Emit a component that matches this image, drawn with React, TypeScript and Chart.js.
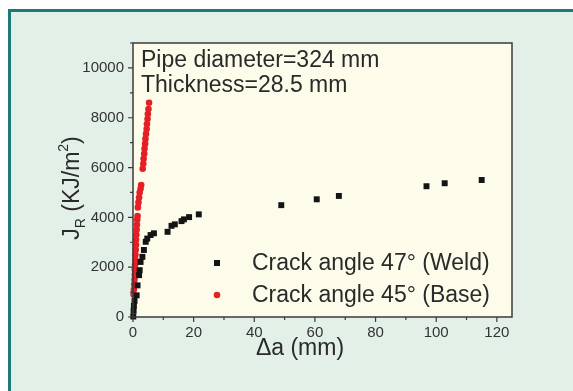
import React, { useEffect, useRef } from "react";
import { Chart, registerables } from "chart.js";

Chart.register(...registerables);

// Crack angle 47° (Weld) — black squares
const weldX = [0.1, 0.2, 0.3, 0.5, 1.2, 1.5, 2.0, 2.2, 2.5, 3.1, 3.6, 4.2, 4.7, 5.8, 6.9, 11.4, 12.7, 13.8, 16.0, 16.8, 18.5, 21.7, 48.9, 60.6, 67.9, 96.8, 102.8, 115.0];
const weldY = [20, 250, 450, 650, 870, 1270, 1680, 1880, 2210, 2415, 2690, 3020, 3150, 3290, 3360, 3420, 3660, 3720, 3850, 3920, 4010, 4120, 4490, 4725, 4860, 5250, 5370, 5500];

// Crack angle 45° (Base) — red circles
const baseX = [0.2, 0.3, 0.4, 0.5, 0.6, 0.6, 0.7, 0.8, 0.8, 0.9, 1.0, 1.0, 1.1, 1.2, 1.3, 1.4, 1.5, 1.6, 1.8, 2.0, 2.2, 2.5, 2.7, 3.2, 3.4, 3.5, 3.7, 3.8, 4.0, 4.1, 4.3, 4.5, 4.6, 4.8, 4.9, 5.1, 5.3];
const baseY = [900, 1100, 1300, 1500, 1700, 1900, 2100, 2300, 2500, 2700, 2900, 3100, 3300, 3500, 3700, 3900, 4050, 4400, 4600, 4800, 5000, 5150, 5300, 5950, 6150, 6350, 6550, 6750, 6950, 7150, 7350, 7550, 7750, 7950, 8150, 8350, 8600];

const seriesLabels = ["Crack angle 47° (Weld)", "Crack angle 45° (Base)"];
const xTitle = "Δa (mm)";
const annotationLines = ["Pipe diameter=324 mm", "Thickness=28.5 mm"];

const FONT = "'Liberation Sans', Arial, sans-serif";
const TEXT = "#2a2a2a";

const decorPlugin = {
  id: "decor",
  beforeDatasetsDraw(chart: any) {
    const { ctx, chartArea: a } = chart;
    ctx.save();
    ctx.fillStyle = "#fdfbe9";
    ctx.fillRect(a.left, a.top, a.right - a.left, a.bottom - a.top);
    ctx.restore();
  },
  afterDraw(chart: any) {
    const { ctx, chartArea: a, scales } = chart;
    ctx.save();
    // frame
    ctx.strokeStyle = "#3a3a3a";
    ctx.lineWidth = 1.5;
    ctx.strokeRect(a.left, a.top, a.right - a.left, a.bottom - a.top);
    // ticks
    ctx.lineWidth = 1.2;
    ctx.beginPath();
    scales.x.ticks.forEach((t: any) => {
      if (t.value % 10 !== 0) return;
      const px = scales.x.getPixelForValue(t.value);
      const len = t.value % 20 === 0 ? 5 : 3;
      ctx.moveTo(px, a.bottom);
      ctx.lineTo(px, a.bottom + len);
    });
    scales.y.ticks.forEach((t: any) => {
      if (t.value % 1000 !== 0) return;
      const py = scales.y.getPixelForValue(t.value);
      const len = t.value % 2000 === 0 ? 5 : 3;
      ctx.moveTo(a.left, py);
      ctx.lineTo(a.left - len, py);
    });
    ctx.stroke();

    ctx.fillStyle = TEXT;
    // x title
    ctx.font = `23px ${FONT}`;
    ctx.textAlign = "center";
    ctx.textBaseline = "middle";
    ctx.fillText(xTitle, 300, 349);

    // y title
    ctx.save();
    ctx.translate(79, 188);
    ctx.rotate(-Math.PI / 2);
    ctx.textAlign = "left";
    ctx.textBaseline = "alphabetic";
    const big = `23px ${FONT}`;
    const small = `14px ${FONT}`;
    const parts = [
      { t: "J", f: big, dy: 0 },
      { t: "R", f: small, dy: 6 },
      { t: " (KJ/m", f: big, dy: 0 },
      { t: "2", f: small, dy: -11 },
      { t: ")", f: big, dy: 0 },
    ];
    let total = 0;
    parts.forEach((p) => {
      ctx.font = p.f;
      total += ctx.measureText(p.t).width;
    });
    let x = -total / 2;
    parts.forEach((p) => {
      ctx.font = p.f;
      ctx.fillText(p.t, x, p.dy);
      x += ctx.measureText(p.t).width;
    });
    ctx.restore();

    // annotation
    ctx.font = `23px ${FONT}`;
    ctx.textAlign = "left";
    ctx.textBaseline = "middle";
    ctx.fillText(annotationLines[0], 141, 61);
    ctx.fillText(annotationLines[1], 141, 86);

    // legend
    const rows = [263, 295];
    chart.data.datasets.forEach((ds: any, i: number) => {
      const y = rows[i];
      ctx.fillStyle = ds.backgroundColor;
      if (ds.pointStyle === "rect") {
        ctx.fillRect(217 - 3, y - 3, 6, 6);
      } else {
        ctx.beginPath();
        ctx.arc(217, y, 3.3, 0, Math.PI * 2);
        ctx.fill();
      }
      ctx.fillStyle = TEXT;
      ctx.font = `23px ${FONT}`;
      ctx.fillText(seriesLabels[i], 252, y + 1);
    });
    ctx.restore();
  },
};

export default function App() {
  const ref = useRef<HTMLCanvasElement | null>(null);
  useEffect(() => {
    if (!ref.current) return;
    const chart = new Chart(ref.current, {
      type: "scatter",
      data: {
        datasets: [
          {
            label: seriesLabels[0],
            data: weldX.map((x, i) => ({ x, y: weldY[i] })),
            pointStyle: "rect",
            pointRadius: 4.2,
            backgroundColor: "#141414",
            borderWidth: 0,
            clip: false,
          },
          {
            label: seriesLabels[1],
            data: baseX.map((x, i) => ({ x, y: baseY[i] })),
            pointStyle: "circle",
            pointRadius: 3.3,
            backgroundColor: "#e41f26",
            borderWidth: 0,
            clip: false,
          },
        ] as any,
      },
      options: {
        animation: false,
        responsive: false,
        maintainAspectRatio: false,
        layout: { padding: { top: 43, right: 61, left: 0, bottom: 0 } },
        plugins: { legend: { display: false }, tooltip: { enabled: false } },
        scales: {
          x: {
            type: "linear",
            min: 0,
            max: 125,
            grid: { display: false, drawTicks: false, tickLength: 0 },
            border: { display: false },
            afterFit: (s: any) => {
              s.height = 74;
            },
            ticks: {
              stepSize: 10,
              padding: 7,
              includeBounds: false,
              autoSkip: false,
              maxRotation: 0,
              minRotation: 0,
              color: "#333",
              font: { family: FONT, size: 15 },
              callback: (v: any) => (Number(v) % 20 === 0 ? String(v) : ""),
            },
          },
          y: {
            type: "linear",
            min: 0,
            max: 11000,
            grid: { display: false, drawTicks: false, tickLength: 0 },
            border: { display: false },
            afterFit: (s: any) => {
              s.width = 133;
            },
            ticks: {
              stepSize: 1000,
              padding: 9,
              includeBounds: false,
              autoSkip: false,
              color: "#333",
              font: { family: FONT, size: 15 },
              callback: (v: any) => (Number(v) % 2000 === 0 ? String(v) : ""),
            },
          },
        },
      },
      plugins: [decorPlugin],
    });
    return () => chart.destroy();
  }, []);

  return (
    <div style={{ position: "fixed", left: 0, top: 0, width: 573, height: 391, background: "#ffffff", overflow: "hidden" }}>
      <div
        style={{
          position: "absolute",
          left: 8,
          top: 9,
          right: 0,
          bottom: 0,
          background: "#e2f0e8",
          borderLeft: "3px solid #1c7a78",
          borderTop: "3px solid #1c7a78",
        }}
      />
      <canvas ref={ref} width={573} height={391} style={{ position: "absolute", left: 0, top: 0, width: 573, height: 391 }} />
    </div>
  );
}
